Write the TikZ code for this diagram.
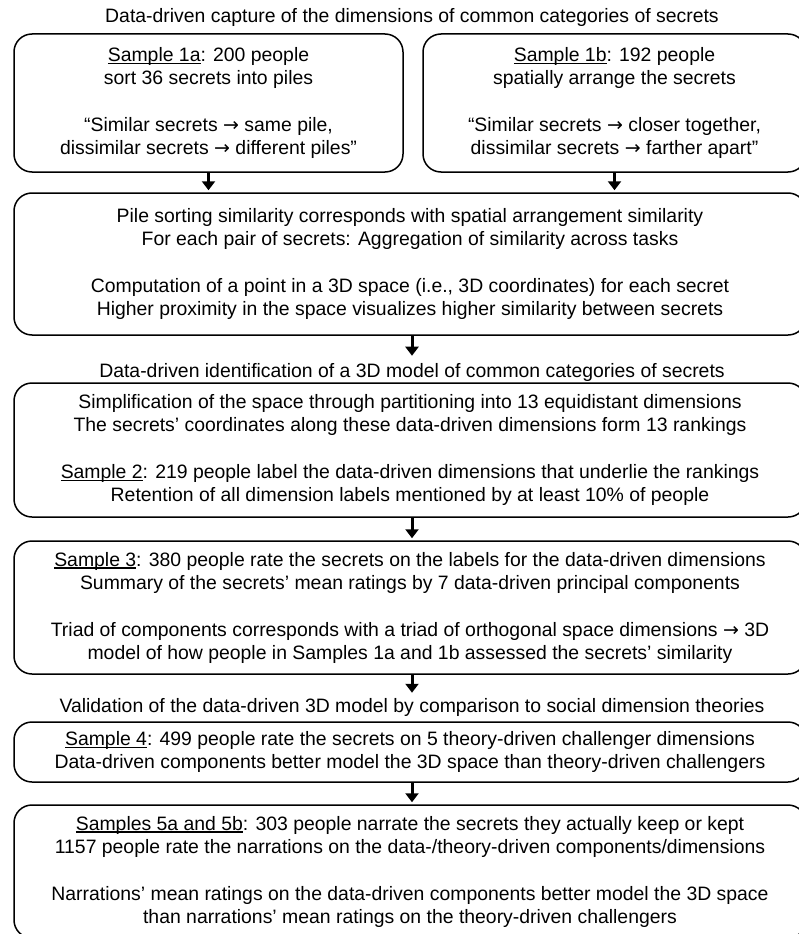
\documentclass[tikz,border=0pt]{standalone}
\usepackage{fontspec}
\setmainfont{Liberation Sans}
\newfontfamily\arrfont{DejaVu Sans}
\usetikzlibrary{arrows.meta}
\newcommand\fsz{\fontsize{19.4}{23}\selectfont}
\newcommand\rarr{{\arrfont\fontsize{19}{23}\selectfont →}}
\newcommand\ulx[1]{{\setbox0\hbox{#1}\rlap{\rule[-2.6pt]{\wd0}{1.2pt}}\box0}}
\begin{document}
\begin{tikzpicture}[x=1pt,y=-1pt,
  box/.style={draw=black, line width=1.5pt, rounded corners=18pt, align=center, inner sep=0pt, font=\fsz},
  ttl/.style={align=center, inner sep=0pt, font=\fsz, anchor=base},
  arr/.style={line width=3pt, -{Triangle[width=13pt,length=9pt]}, shorten >=2pt}]
\useasboundingbox (0,0) rectangle (798,934);

\node[ttl] (t1) at (412,23) {Data-driven capture of the dimensions of common categories of secrets};

\node[box, minimum width=389pt, minimum height=138pt] (b1a) at (208.5,103)
 {\ulx{Sample 1a}: 200 people\\ sort 36 secrets into piles\\[24pt]
  “Similar secrets \rarr{} same pile,\\ dissimilar secrets \rarr{} different piles”};
\node[box, minimum width=383pt, minimum height=138pt] (b1b) at (614.5,103)
 {\ulx{Sample 1b}: 192 people\\ spatially arrange the secrets\\[24pt]
  “Similar secrets \rarr{} closer together,\\ dissimilar secrets \rarr{} farther apart”};

\node[box, minimum width=792pt, minimum height=142pt] (b2) at (410,264)
 {Pile sorting similarity corresponds with spatial arrangement similarity\\
  For each pair of secrets: Aggregation of similarity across tasks\\[24pt]
  Computation of a point in a 3D space (i.e., 3D coordinates) for each secret\\
  Higher proximity in the space visualizes higher similarity between secrets};

\node[ttl] (t2) at (412,377) {Data-driven identification of a 3D model of common categories of secrets};

\node[box, minimum width=792pt, minimum height=134pt] (b3) at (410,450)
 {Simplification of the space through partitioning into 13 equidistant dimensions\\
  The secrets’ coordinates along these data-driven dimensions form 13 rankings\\[24pt]
  \ulx{Sample 2}: 219 people label the data-driven dimensions that underlie the rankings\\
  Retention of all dimension labels mentioned by at least 10\% of people};

\node[box, minimum width=792pt, minimum height=133pt] (b4) at (410,607.5)
 {\ulx{Sample 3}: 380 people rate the secrets on the labels for the data-driven dimensions\\
  Summary of the secrets’ mean ratings by 7 data-driven principal components\\[24pt]
  Triad of components corresponds with a triad of orthogonal space dimensions \rarr{} 3D\\
  model of how people in Samples 1a and 1b assessed the secrets’ similarity};

\node[ttl] (t3) at (412,712) {Validation of the data-driven 3D model by comparison to social dimension theories};

\node[box, minimum width=792pt, minimum height=60pt] (b5) at (410,752)
 {\ulx{Sample 4}: 499 people rate the secrets on 5 theory-driven challenger dimensions\\
  Data-driven components better model the 3D space than theory-driven challengers};

\node[box, minimum width=792pt, minimum height=133pt] (b6) at (410,871.5)
 {\ulx{Samples 5a and 5b}: 303 people narrate the secrets they actually keep or kept\\
  1157 people rate the narrations on the data-/theory-driven components/dimensions\\[24pt]
  Narrations’ mean ratings on the data-driven components better model the 3D space\\
  than narrations’ mean ratings on the theory-driven challengers};

\draw[arr] (b1a.south) -- (b1a.south |- b2.north);
\draw[arr] (b1b.south) -- (b1b.south |- b2.north);
\draw[arr, shorten >=7pt] (b2.south -| t2.north) -- (t2.north);
\draw[arr] (b3.south -| t2.north) -- (b4.north -| t2.north);
\draw[arr, shorten >=5pt] (b4.south -| t3.north) -- (t3.north);
\draw[arr] (b5.south -| t3.north) -- (b6.north -| t3.north);
\end{tikzpicture}
\end{document}
